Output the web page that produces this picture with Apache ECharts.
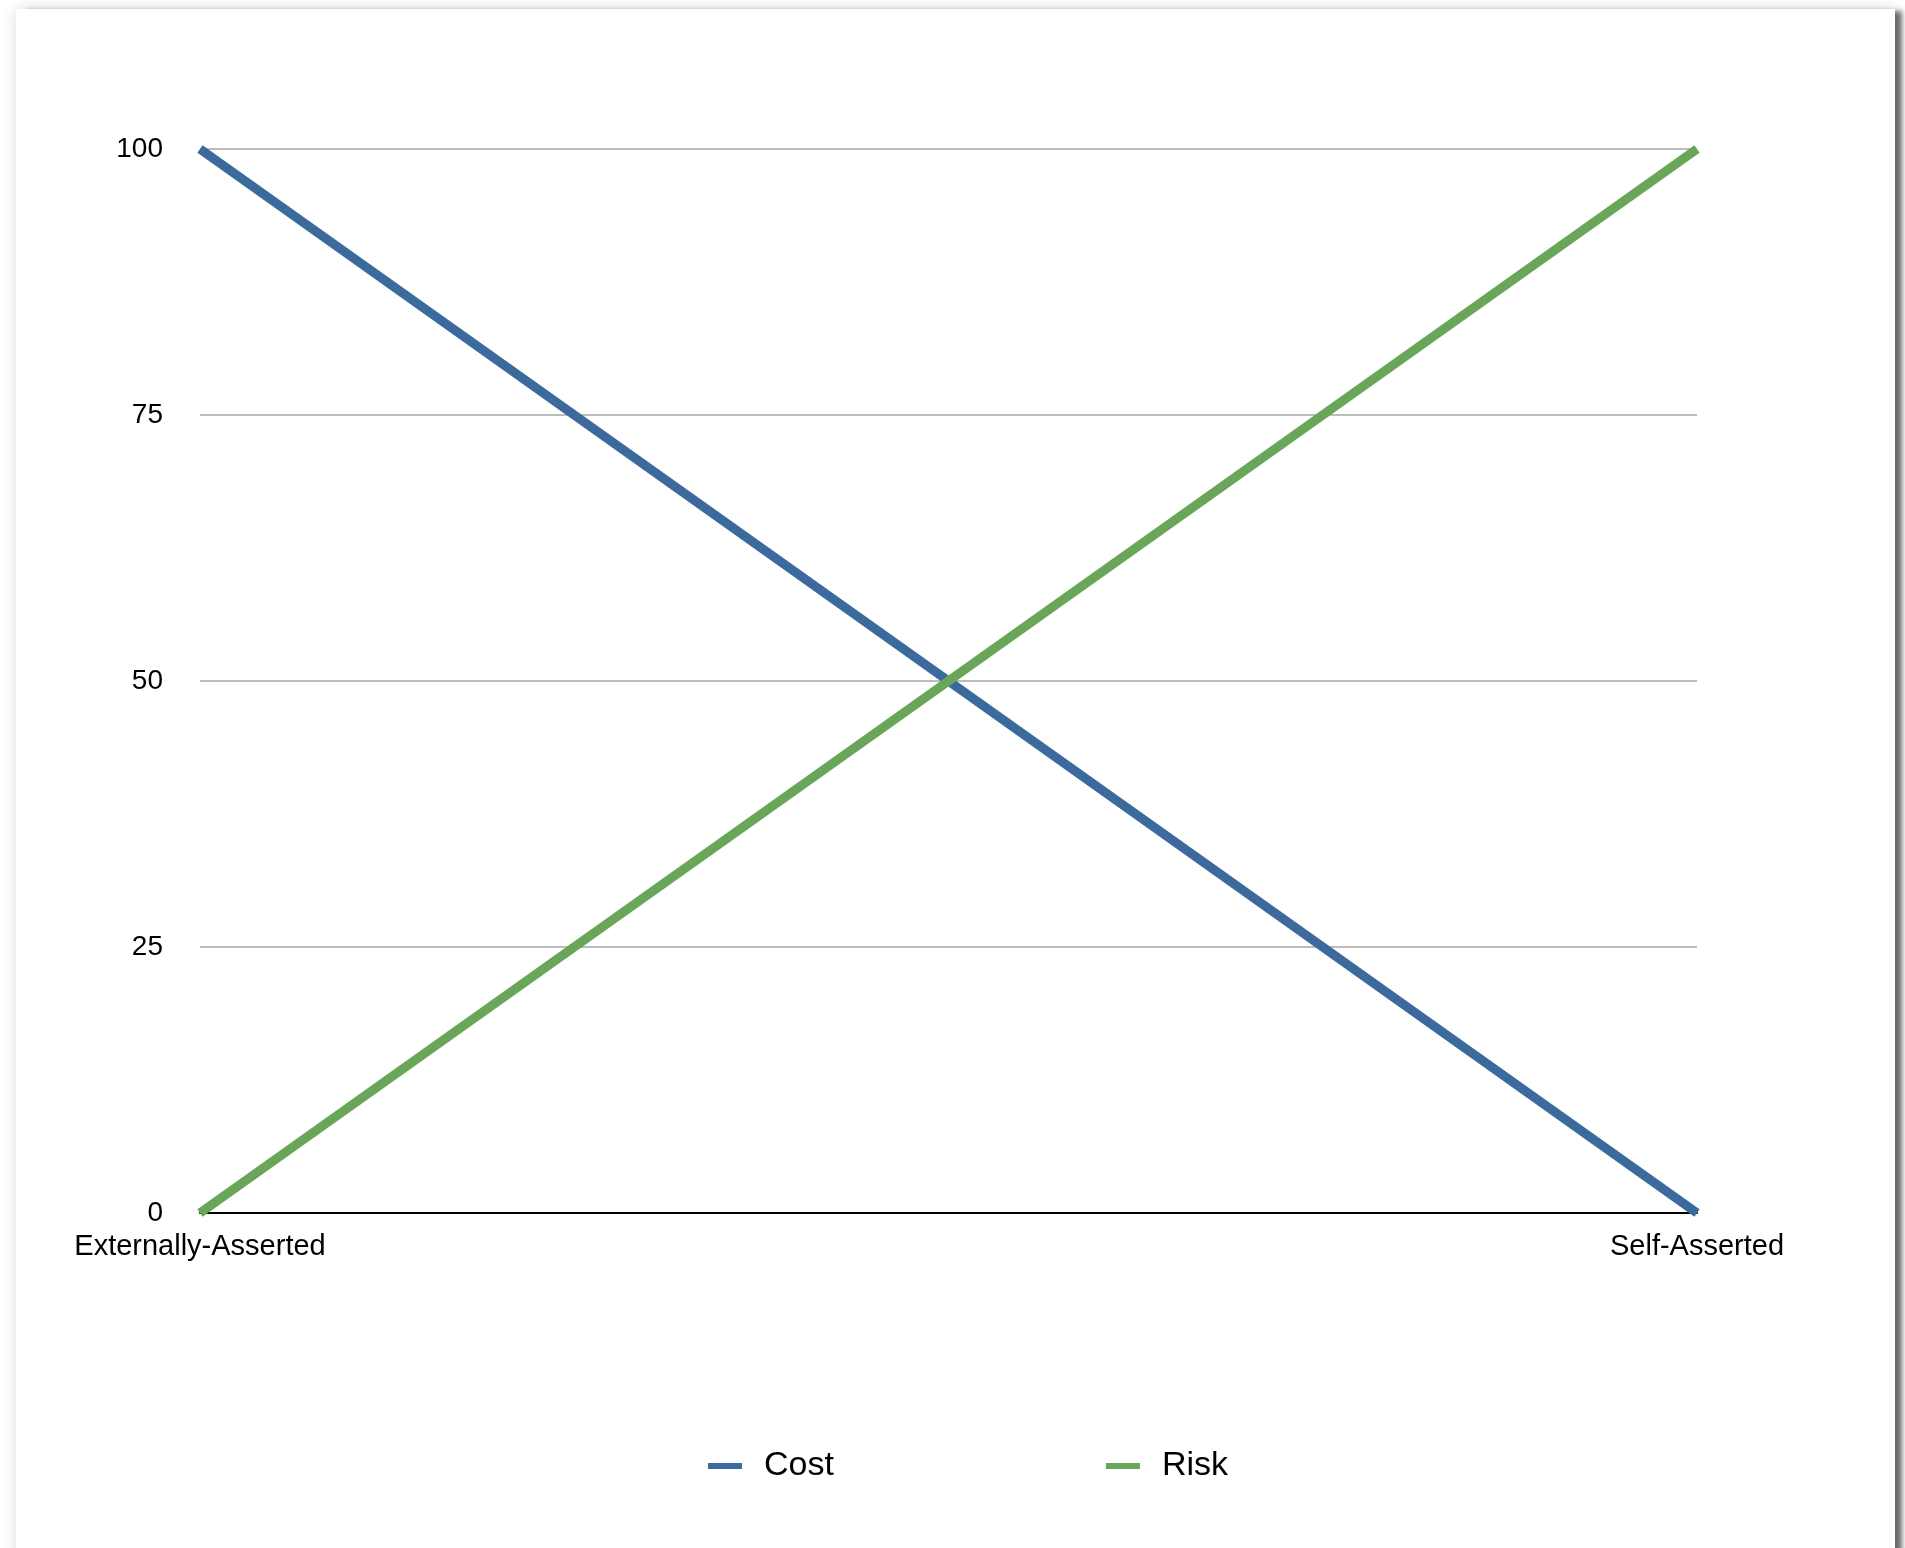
<!DOCTYPE html>
<html>
<head>
<meta charset="utf-8">
<script src="https://cdn.jsdelivr.net/npm/echarts@6/dist/echarts.min.js"></script>
<style>
  html, body { margin: 0; padding: 0; background: #ffffff; width: 1905px; height: 1548px; overflow: hidden; }
  #card { position: absolute; left: 16px; top: 9px; width: 1879px; height: 1600px; background: #fff;
          box-shadow: 0 0 14px rgba(0,0,0,0.14), 9px 0 5px -2px rgba(0,0,0,0.55); }
  #chart { position: absolute; left: 0; top: 0; width: 1905px; height: 1548px; }
</style>
</head>
<body>
<div id="card"></div>
<div id="chart"></div>
<script>
const categories = ['Externally-Asserted', 'Self-Asserted'];
const costValues = [100, 0];
const riskValues = [0, 100];
const yTicks = { min: 0, max: 100, interval: 25 };
const seriesNames = ['Cost', 'Risk'];
const colors = ['#3c6a9c', '#6aa659'];

const chart = echarts.init(document.getElementById('chart'), null, { renderer: 'canvas' });
const fontFamily = '"Liberation Sans", Arial, Helvetica, sans-serif';
chart.setOption({
  backgroundColor: 'transparent',
  animation: false,
  color: colors,
  grid: { left: 200, right: 208, top: 149, bottom: 335, containLabel: false },
  xAxis: {
    type: 'category',
    data: categories,
    boundaryGap: false,
    axisLine: { show: true, lineStyle: { color: '#000', width: 2 } },
    axisTick: { show: false },
    axisLabel: { color: '#000', fontSize: 29, fontFamily: fontFamily, margin: 19, interval: 0 },
    splitLine: { show: false }
  },
  yAxis: {
    type: 'value',
    min: yTicks.min, max: yTicks.max, interval: yTicks.interval,
    axisLine: { show: false },
    axisTick: { show: false },
    axisLabel: { color: '#000', fontSize: 28, fontFamily: fontFamily, margin: 37, padding: [5, 0, 0, 0] },
    splitLine: { show: true, lineStyle: { color: '#a6a6a6', width: 1.5 } }
  },
  legend: {
    left: 703, top: 1444,
    icon: 'rect', itemWidth: 34, itemHeight: 6, itemGap: 272,
    textStyle: { color: '#000', fontSize: 34, fontFamily: fontFamily, padding: [0, 0, 0, 17] },
    data: seriesNames
  },
  series: [
    { name: seriesNames[0], type: 'line', data: costValues, symbol: 'none', lineStyle: { width: 9, color: colors[0] }, itemStyle: { color: colors[0] } },
    { name: seriesNames[1], type: 'line', data: riskValues, symbol: 'none', lineStyle: { width: 9, color: colors[1] }, itemStyle: { color: colors[1] } }
  ]
});
</script>
</body>
</html>
